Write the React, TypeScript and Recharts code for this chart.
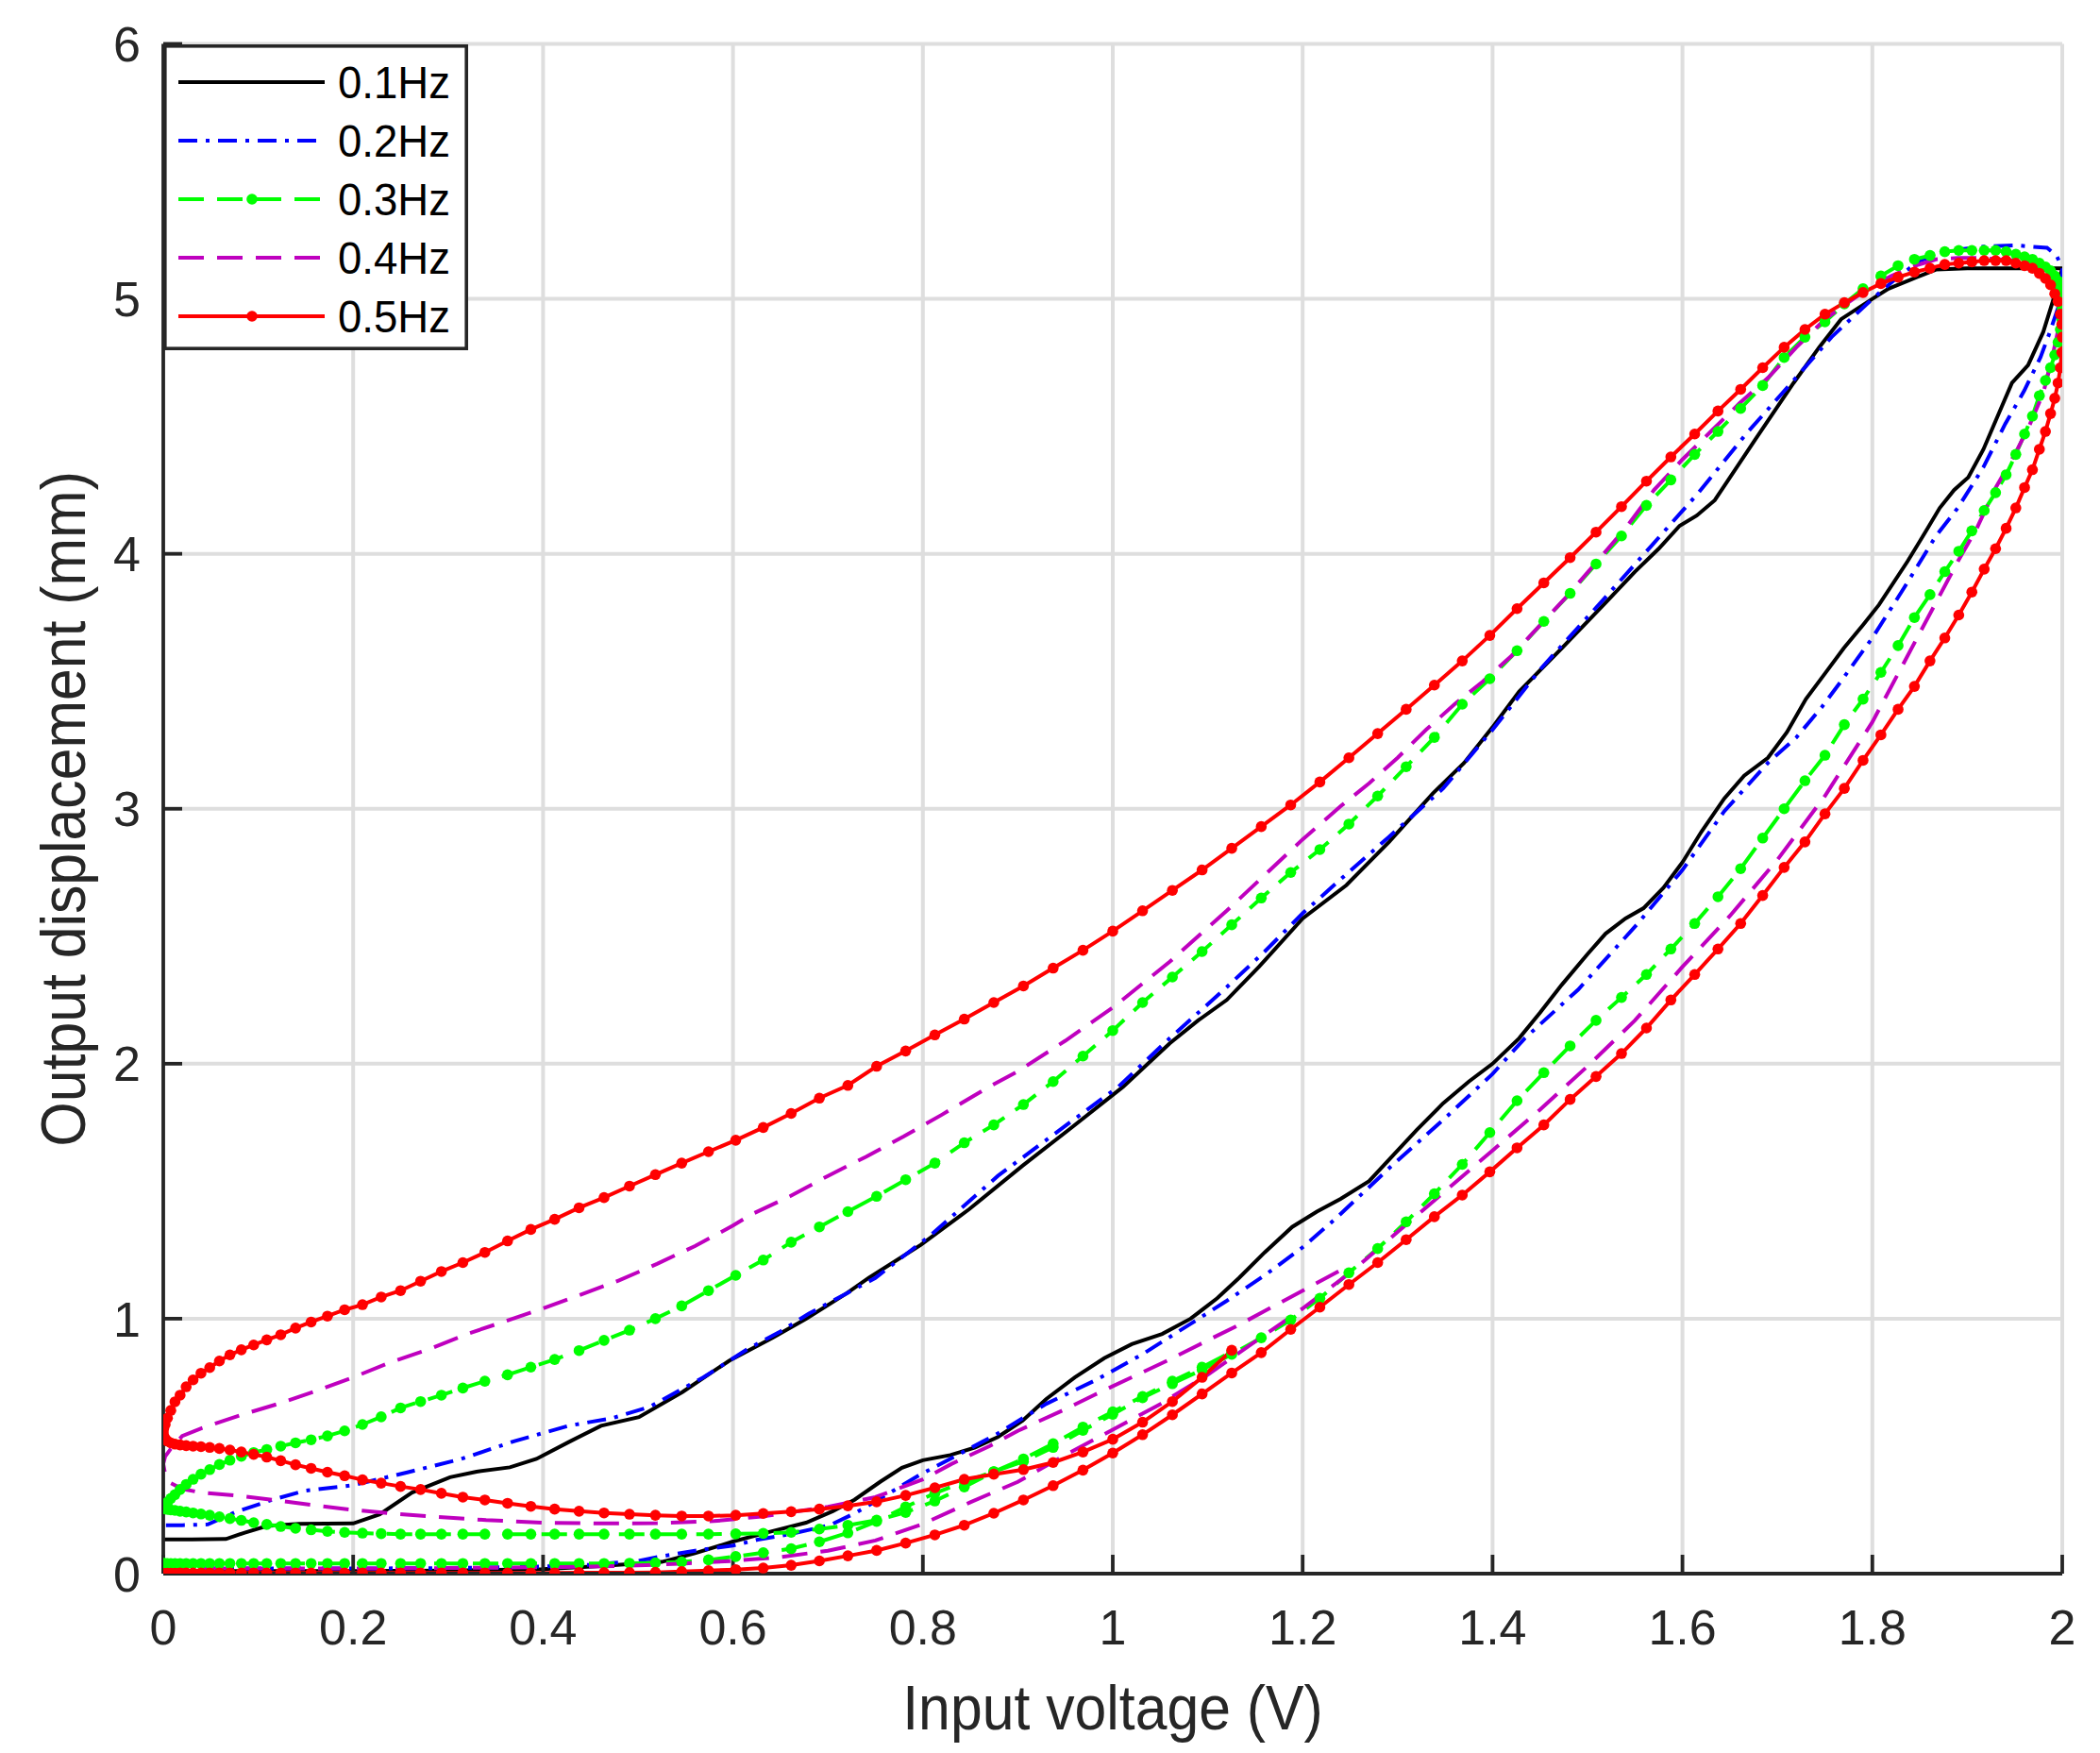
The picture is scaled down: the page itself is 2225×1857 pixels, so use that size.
import { LineChart, Line, XAxis, YAxis, CartesianGrid, Legend } from "recharts"

const xTicks = [0, 0.2, 0.4, 0.6, 0.8, 1, 1.2, 1.4, 1.6, 1.8, 2]
const yTicks = [0, 1, 2, 3, 4, 5, 6]
const freqLabels = ["0.1Hz", "0.2Hz", "0.3Hz", "0.4Hz", "0.5Hz"]

// input voltage samples over one rising half period (0.3Hz and 0.5Hz records)
const voltRise = [
  0, 0.0005, 0.002, 0.0044, 0.0079, 0.0123, 0.0177, 0.0241, 0.0314, 0.0397,
  0.0489, 0.0591, 0.0702, 0.0822, 0.0952, 0.109, 0.1237, 0.1393, 0.1557, 0.1729,
  0.191, 0.2098, 0.2295, 0.2499, 0.271, 0.2929, 0.3155, 0.3387, 0.3626, 0.3871,
  0.4122, 0.4379, 0.4642, 0.491, 0.5183, 0.546, 0.5742, 0.6029, 0.6319, 0.6613,
  0.691, 0.721, 0.7513, 0.7819, 0.8126, 0.8436, 0.8747, 0.9059, 0.9372, 0.9686,
  1.0, 1.0314, 1.0628, 1.0941, 1.1253, 1.1564, 1.1874, 1.2181, 1.2487, 1.279,
  1.309, 1.3387, 1.3681, 1.3971, 1.4258, 1.454, 1.4817, 1.509, 1.5358, 1.5621,
  1.5878, 1.6129, 1.6374, 1.6613, 1.6845, 1.7071, 1.729, 1.7501, 1.7705, 1.7902,
  1.809, 1.8271, 1.8443, 1.8607, 1.8763, 1.891, 1.9048, 1.9178, 1.9298, 1.9409,
  1.9511, 1.9603, 1.9686, 1.9759, 1.9823, 1.9877, 1.9921, 1.9956, 1.998, 1.9995, 2.0,
]

// 0.5Hz displacement: rising, falling, second rising (partial)
const red05Rise = [
  0, 0.001, 0.001, 0.002, 0.002, 0.002, 0.003, 0.003, 0.003, 0.003,
  0.003, 0.003, 0.003, 0.003, 0.003, 0.003, 0.003, 0.003, 0.003, 0.003,
  0.003, 0.003, 0.003, 0.003, 0.003, 0.003, 0.003, 0.003, 0.003, 0.003,
  0.003, 0.004, 0.004, 0.004, 0.005, 0.008, 0.012, 0.016, 0.022, 0.033,
  0.05, 0.07, 0.091, 0.12, 0.152, 0.19, 0.237, 0.289, 0.345, 0.406,
  0.473, 0.545, 0.623, 0.705, 0.787, 0.867, 0.958, 1.045, 1.134, 1.22,
  1.31, 1.4, 1.485, 1.576, 1.67, 1.76, 1.86, 1.95, 2.04, 2.14,
  2.25, 2.35, 2.45, 2.55, 2.66, 2.77, 2.87, 2.98, 3.08, 3.19,
  3.29, 3.39, 3.48, 3.58, 3.67, 3.76, 3.85, 3.94, 4.02, 4.1,
  4.18, 4.26, 4.33, 4.41, 4.48, 4.55, 4.61, 4.67, 4.73, 4.79, 4.85,
]
const red05Fall = [
  4.9, 4.94, 4.99, 5.02, 5.055, 5.08, 5.1, 5.12, 5.13, 5.14,
  5.15, 5.15, 5.15, 5.145, 5.14, 5.135, 5.12, 5.105, 5.085, 5.06,
  5.025, 4.985, 4.94, 4.88, 4.81, 4.73, 4.645, 4.56, 4.47, 4.38,
  4.285, 4.185, 4.085, 3.985, 3.886, 3.785, 3.68, 3.58, 3.485, 3.39,
  3.295, 3.2, 3.105, 3.015, 2.93, 2.845, 2.76, 2.68, 2.6, 2.52,
  2.445, 2.375, 2.305, 2.24, 2.175, 2.113, 2.05, 1.99, 1.915, 1.865,
  1.805, 1.75, 1.7, 1.655, 1.61, 1.565, 1.52, 1.475, 1.435, 1.39,
  1.35, 1.305, 1.26, 1.22, 1.185, 1.147, 1.11, 1.085, 1.055, 1.035,
  1.01, 0.987, 0.963, 0.937, 0.917, 0.897, 0.878, 0.858, 0.834, 0.808,
  0.786, 0.76, 0.733, 0.7, 0.674, 0.64, 0.61, 0.585, 0.57, 0.555,
]
const red05Rise2 = [
  0.54, 0.53, 0.52, 0.513, 0.508, 0.505, 0.502, 0.5, 0.498, 0.495,
  0.491, 0.485, 0.477, 0.468, 0.457, 0.443, 0.427, 0.413, 0.398, 0.384,
  0.368, 0.355, 0.342, 0.33, 0.315, 0.3, 0.289, 0.276, 0.264, 0.253,
  0.245, 0.238, 0.233, 0.229, 0.226, 0.226, 0.229, 0.236, 0.243, 0.253,
  0.266, 0.282, 0.307, 0.337, 0.37, 0.39, 0.408, 0.436, 0.477, 0.527,
  0.594, 0.675, 0.77, 0.876,
]

// 0.3Hz displacement
const green03Rise = [
  0.04, 0.04, 0.04, 0.04, 0.04, 0.04, 0.04, 0.04, 0.04, 0.04,
  0.04, 0.04, 0.04, 0.04, 0.04, 0.04, 0.04, 0.04, 0.04, 0.04,
  0.04, 0.04, 0.04, 0.04, 0.04, 0.04, 0.04, 0.04, 0.04, 0.04,
  0.04, 0.04, 0.04, 0.041, 0.042, 0.046, 0.054, 0.067, 0.082, 0.098,
  0.125, 0.16, 0.205, 0.262, 0.315, 0.36, 0.4, 0.44, 0.495, 0.562,
  0.625, 0.69, 0.745, 0.8, 0.86, 0.925, 0.995, 1.08, 1.18, 1.275,
  1.38, 1.49, 1.605, 1.73, 1.855, 1.965, 2.07, 2.17, 2.26, 2.35,
  2.45, 2.55, 2.655, 2.765, 2.885, 3.0, 3.11, 3.21, 3.33, 3.43,
  3.535, 3.64, 3.75, 3.84, 3.93, 4.01, 4.09, 4.17, 4.24, 4.31,
  4.39, 4.47, 4.54, 4.62, 4.68, 4.73, 4.78, 4.83, 4.88, 4.92, 4.96,
]
const green03Fall = [
  5.0, 5.04, 5.07, 5.09, 5.11, 5.125, 5.14, 5.155, 5.165, 5.175,
  5.185, 5.19, 5.19, 5.19, 5.19, 5.185, 5.17, 5.155, 5.13, 5.09,
  5.04, 4.98, 4.91, 4.85, 4.77, 4.66, 4.57, 4.48, 4.39, 4.29,
  4.19, 4.07, 3.96, 3.845, 3.735, 3.62, 3.51, 3.41, 3.28, 3.165,
  3.05, 2.94, 2.84, 2.75, 2.65, 2.545, 2.44, 2.34, 2.24, 2.13,
  2.03, 1.93, 1.84, 1.76, 1.69, 1.61, 1.545, 1.48, 1.42, 1.36,
  1.3, 1.23, 1.17, 1.11, 1.05, 1.0, 0.955, 0.915, 0.875, 0.84,
  0.81, 0.78, 0.755, 0.728, 0.7, 0.675, 0.65, 0.615, 0.585, 0.56,
  0.54, 0.525, 0.513, 0.5, 0.487, 0.475, 0.46, 0.445, 0.428, 0.408,
  0.39, 0.37, 0.35, 0.33, 0.31, 0.295, 0.28, 0.27, 0.262, 0.258,
]
const green03Rise2 = [
  0.256, 0.254, 0.252, 0.25, 0.248, 0.245, 0.242, 0.238, 0.234, 0.229,
  0.223, 0.216, 0.209, 0.2, 0.193, 0.185, 0.178, 0.172, 0.166, 0.162,
  0.159, 0.157, 0.155, 0.155, 0.155, 0.155, 0.155, 0.155, 0.155, 0.155,
  0.155, 0.155, 0.155, 0.155, 0.155, 0.155, 0.156, 0.158, 0.162, 0.175,
  0.19, 0.21, 0.24, 0.285, 0.34, 0.4, 0.45, 0.51, 0.575, 0.635,
  0.695, 0.755, 0.81, 0.87,
]

// 0.1Hz [voltage, displacement]
const black01Rise = [
  [0, 0.01], [0.1, 0.01], [0.2, 0.01], [0.3, 0.012], [0.4, 0.018], [0.46, 0.03], [0.5, 0.04],
  [0.525, 0.046], [0.56, 0.08], [0.6, 0.126], [0.64, 0.165], [0.677, 0.2], [0.705, 0.245],
  [0.728, 0.29], [0.755, 0.36], [0.778, 0.415], [0.8, 0.445], [0.829, 0.465], [0.855, 0.495],
  [0.879, 0.536], [0.905, 0.6], [0.93, 0.685], [0.96, 0.77], [0.991, 0.845], [1.02, 0.9],
  [1.052, 0.94], [1.082, 1.0], [1.11, 1.08], [1.133, 1.16], [1.16, 1.26], [1.189, 1.36],
  [1.215, 1.42], [1.24, 1.47], [1.27, 1.54], [1.295, 1.64], [1.32, 1.74], [1.348, 1.845],
  [1.375, 1.93], [1.4, 2.0], [1.428, 2.1], [1.45, 2.2], [1.473, 2.31], [1.5, 2.43],
  [1.519, 2.51], [1.54, 2.57], [1.559, 2.61], [1.58, 2.69], [1.6, 2.79], [1.62, 2.91],
  [1.644, 3.04], [1.665, 3.13], [1.69, 3.2], [1.71, 3.3], [1.73, 3.43], [1.75, 3.53],
  [1.77, 3.63], [1.79, 3.72], [1.807, 3.8], [1.837, 3.97], [1.855, 4.08], [1.871, 4.18],
  [1.886, 4.25], [1.901, 4.3], [1.917, 4.41], [1.932, 4.54], [1.947, 4.67], [1.964, 4.74],
  [1.98, 4.87], [1.99, 4.99], [1.997, 5.08], [2.0, 5.12],
]
const black01Fall = [
  [1.95, 5.12], [1.9, 5.12], [1.867, 5.115], [1.85, 5.09], [1.817, 5.04], [1.8, 5.0],
  [1.767, 4.92], [1.744, 4.81], [1.717, 4.67], [1.677, 4.45], [1.634, 4.21], [1.615, 4.15],
  [1.597, 4.11], [1.575, 4.02], [1.55, 3.93], [1.517, 3.8], [1.473, 3.63], [1.428, 3.46],
  [1.4, 3.32], [1.37, 3.18], [1.337, 3.06], [1.291, 2.87], [1.246, 2.7], [1.2, 2.57],
  [1.154, 2.38], [1.12, 2.25], [1.09, 2.17], [1.06, 2.08], [1.011, 1.91], [0.955, 1.745],
  [0.905, 1.6], [0.849, 1.43], [0.798, 1.29], [0.743, 1.16], [0.72, 1.1], [0.677, 1.0],
  [0.642, 0.926], [0.596, 0.835], [0.547, 0.713], [0.501, 0.614], [0.461, 0.58],
  [0.427, 0.516], [0.393, 0.45], [0.365, 0.417], [0.33, 0.4], [0.302, 0.378],
  [0.262, 0.318], [0.228, 0.233], [0.2, 0.197], [0.143, 0.195], [0.109, 0.187],
  [0.085, 0.16], [0.066, 0.136], [0.03, 0.134], [0, 0.134],
]

// 0.2Hz
const blue02Rise = [
  [0, 0.02], [0.1, 0.02], [0.2, 0.02], [0.3, 0.022], [0.4, 0.028], [0.45, 0.035], [0.5, 0.05],
  [0.525, 0.068], [0.56, 0.09], [0.6, 0.11], [0.626, 0.133], [0.66, 0.155], [0.702, 0.19],
  [0.73, 0.24], [0.753, 0.29], [0.798, 0.39], [0.839, 0.47], [0.879, 0.55], [0.93, 0.666],
  [0.981, 0.757], [1.031, 0.86], [1.082, 0.98], [1.12, 1.07], [1.16, 1.17], [1.2, 1.28],
  [1.234, 1.39], [1.291, 1.59], [1.348, 1.78], [1.4, 1.96], [1.434, 2.1], [1.49, 2.29],
  [1.553, 2.55], [1.6, 2.76], [1.644, 2.99], [1.69, 3.18], [1.72, 3.28], [1.747, 3.4],
  [1.767, 3.5], [1.8, 3.67], [1.834, 3.87], [1.867, 4.07], [1.89, 4.18], [1.917, 4.34],
  [1.94, 4.51], [1.96, 4.64], [1.977, 4.77], [1.987, 4.87], [1.997, 4.98], [2.0, 5.05],
]
const blue02Fall = [
  [2.0, 5.12], [1.994, 5.17], [1.984, 5.2], [1.951, 5.21], [1.917, 5.205], [1.884, 5.19],
  [1.85, 5.15], [1.825, 5.08], [1.8, 5.0], [1.757, 4.85], [1.717, 4.68], [1.667, 4.47],
  [1.617, 4.24], [1.567, 4.03], [1.519, 3.83], [1.485, 3.69], [1.451, 3.55], [1.4, 3.31],
  [1.348, 3.08], [1.291, 2.89], [1.245, 2.74], [1.2, 2.59], [1.16, 2.44], [1.12, 2.3],
  [1.06, 2.1], [1.006, 1.91], [0.955, 1.77], [0.879, 1.56], [0.809, 1.33], [0.75, 1.16],
  [0.72, 1.1], [0.68, 1.02], [0.65, 0.95], [0.615, 0.88], [0.569, 0.77], [0.512, 0.654],
  [0.473, 0.61], [0.427, 0.58], [0.37, 0.52], [0.314, 0.45], [0.257, 0.397], [0.2, 0.347],
  [0.149, 0.325], [0.115, 0.29], [0.075, 0.24], [0.047, 0.193], [0.02, 0.19], [0, 0.19],
]

// 0.4Hz
const mag04Rise = [
  [0, 0.02], [0.1, 0.02], [0.2, 0.02], [0.3, 0.022], [0.4, 0.025], [0.45, 0.028], [0.5, 0.032],
  [0.55, 0.04], [0.6, 0.05], [0.65, 0.065], [0.7, 0.09], [0.75, 0.13], [0.8, 0.195],
  [0.85, 0.28], [0.9, 0.36], [0.95, 0.465], [1.0, 0.565], [1.05, 0.665], [1.1, 0.78],
  [1.15, 0.91], [1.2, 1.04], [1.25, 1.18], [1.3, 1.34], [1.35, 1.5], [1.4, 1.66],
  [1.45, 1.82], [1.5, 1.99], [1.55, 2.17], [1.6, 2.38], [1.65, 2.58], [1.7, 2.8],
  [1.75, 3.05], [1.8, 3.34], [1.83, 3.55], [1.86, 3.76], [1.89, 3.97], [1.91, 4.1],
  [1.93, 4.26], [1.95, 4.39], [1.965, 4.5], [1.98, 4.63], [1.99, 4.78], [1.997, 4.9], [2.0, 4.97],
]
const mag04Fall = [
  [1.997, 5.02], [1.987, 5.06], [1.977, 5.11], [1.964, 5.135], [1.95, 5.15], [1.934, 5.155],
  [1.917, 5.16], [1.89, 5.16], [1.867, 5.155], [1.845, 5.13], [1.82, 5.09], [1.8, 5.05],
  [1.78, 5.0], [1.75, 4.92], [1.72, 4.81], [1.69, 4.69], [1.66, 4.59], [1.63, 4.48],
  [1.6, 4.37], [1.57, 4.25], [1.54, 4.1], [1.51, 3.97], [1.48, 3.84], [1.45, 3.72],
  [1.42, 3.6], [1.39, 3.5], [1.36, 3.41], [1.33, 3.31], [1.3, 3.2], [1.27, 3.1],
  [1.24, 3.01], [1.2, 2.88], [1.16, 2.74], [1.12, 2.6], [1.06, 2.4], [1.0, 2.22],
  [0.95, 2.09], [0.9, 1.97], [0.87, 1.91], [0.82, 1.8], [0.78, 1.715], [0.74, 1.635],
  [0.7, 1.56], [0.66, 1.48], [0.62, 1.41], [0.6, 1.365], [0.56, 1.285], [0.52, 1.215],
  [0.48, 1.15], [0.44, 1.095], [0.4, 1.04], [0.36, 0.99], [0.32, 0.94], [0.28, 0.88],
  [0.24, 0.83], [0.2, 0.77], [0.16, 0.715], [0.12, 0.665], [0.08, 0.62], [0.04, 0.57],
  [0.02, 0.54], [0.008, 0.49], [0.002, 0.46], [0, 0.43],
]
const mag04Rise2 = [
  [0.002, 0.39], [0.008, 0.355], [0.02, 0.332], [0.04, 0.318], [0.08, 0.305], [0.12, 0.287],
  [0.16, 0.268], [0.2, 0.25], [0.24, 0.236], [0.28, 0.225], [0.34, 0.21], [0.4, 0.2],
  [0.46, 0.197], [0.52, 0.198], [0.58, 0.206], [0.63, 0.224], [0.7, 0.262], [0.75, 0.3],
  [0.8, 0.37], [0.83, 0.43], [0.87, 0.5], [0.9, 0.56], [0.95, 0.645], [0.98, 0.7],
  [1.02, 0.77], [1.06, 0.84], [1.1, 0.915], [1.13, 0.97], [1.16, 1.03], [1.2, 1.11], [1.24, 1.19],
]

type Pt = { x: number; y: number }
const fromPairs = (list: number[][]): Pt[] => list.map(([x, y]) => ({ x, y }))
const onVolts = (volts: number[], ys: number[]): Pt[] => ys.map((y, i) => ({ x: volts[i], y }))
const voltFall = voltRise.slice().reverse().slice(1)

const series = [
  { name: freqLabels[0], color: "#000000", dash: undefined, dot: 0,
    data: [...fromPairs(black01Rise), ...fromPairs(black01Fall)] },
  { name: freqLabels[1], color: "#0000ff", dash: "20 9 4 9", dot: 0,
    data: [...fromPairs(blue02Rise), ...fromPairs(blue02Fall)] },
  { name: freqLabels[2], color: "#00ff00", dash: "27 14", dot: 5.8,
    data: [...onVolts(voltRise, green03Rise), ...onVolts(voltFall, green03Fall), ...onVolts(voltRise.slice(1), green03Rise2)] },
  { name: freqLabels[3], color: "#bf00bf", dash: "27 14", dot: 0,
    data: [...fromPairs(mag04Rise), ...fromPairs(mag04Fall), ...fromPairs(mag04Rise2)] },
  { name: freqLabels[4], color: "#ff0000", dash: undefined, dot: 5.8,
    data: [...onVolts(voltRise, red05Rise), ...onVolts(voltFall, red05Fall), ...onVolts(voltRise.slice(1), red05Rise2)] },
]

const FONT = "Arial, 'Liberation Sans', Helvetica, sans-serif"
const INK = "#262626"
const W = 2225
const H = 1857
const LEFT = 173
const TOP = 46.5
const RIGHT = 2185
const BOTTOM = 1667
const PLOT_CX = (LEFT + RIGHT) / 2
const PLOT_CY = (TOP + BOTTOM) / 2

function LegendBox() {
  return (
    <svg width={323} height={324} style={{ display: "block" }}>
      <rect x={1.8} y={1.8} width={319.4} height={320.4} fill="#ffffff" stroke={INK} strokeWidth={3.6} />
      {series.map((s, i) => {
        const y = 40 + i * 62
        return (
          <g key={s.name}>
            <line x1={16} x2={171} y1={y} y2={y} stroke={s.color} strokeWidth={4} strokeDasharray={s.dash} />
            {s.dot > 0 && <circle cx={94} cy={y} r={s.dot} fill={s.color} />}
            <text x={185} y={y + 17} fontSize={48} fontFamily={FONT} fill="#000000"
              transform={`translate(185 0) scale(0.95 1) translate(-185 0)`}>{s.name}</text>
          </g>
        )
      })}
    </svg>
  )
}

const xTitle = () => (
  <text x={PLOT_CX} y={1832} textAnchor="middle" fontSize={66} fontFamily={FONT} fill={INK}
    transform={`translate(${PLOT_CX} 0) scale(0.92 1) translate(${-PLOT_CX} 0)`}>
    Input voltage (V)
  </text>
)

const yTitle = () => (
  <text x={0} y={0} textAnchor="middle" fontSize={66} fontFamily={FONT} fill={INK}
    transform={`translate(90 ${PLOT_CY}) rotate(-90) scale(0.92 1)`}>
    Output displacement (mm)
  </text>
)

const XTick = (props: any) => (
  <text x={props.x} y={BOTTOM + 75} textAnchor="middle" fontSize={52} fontFamily={FONT} fill={INK}>
    {props.payload.value}
  </text>
)

const YTick = (props: any) => (
  <text x={LEFT - 24} y={props.y + 18.6} textAnchor="end" fontSize={52} fontFamily={FONT} fill={INK}>
    {props.payload.value}
  </text>
)

const axisLine = { stroke: INK, strokeWidth: 3.8 }
const tickLine = { stroke: INK, strokeWidth: 3.8 }

export default function App() {
  return (
    <div style={{ position: "absolute", left: 0, top: 0, width: W, height: H, background: "#ffffff" }}>
      <LineChart width={W} height={H} margin={{ top: TOP, right: W - RIGHT, bottom: 0, left: 0 }}>
        <CartesianGrid stroke="#dedede" strokeWidth={4} />
        <XAxis type="number" dataKey="x" domain={[0, 2]} ticks={xTicks} allowDataOverflow
          height={H - BOTTOM} axisLine={axisLine} tickLine={tickLine} tickSize={-20}
          tick={XTick} label={{ content: xTitle }} />
        <XAxis xAxisId="top" orientation="top" type="number" domain={[0, 2]} ticks={xTicks}
          allowDataOverflow height={0} axisLine={axisLine} tickLine={tickLine} tickSize={-20} tick={false} />
        <YAxis type="number" domain={[0, 6]} ticks={yTicks} allowDataOverflow width={LEFT}
          axisLine={axisLine} tickLine={tickLine} tickSize={-20}
          tick={YTick} label={{ content: yTitle }} />
        <YAxis yAxisId="right" orientation="right" type="number" domain={[0, 6]} ticks={yTicks}
          allowDataOverflow width={0} axisLine={axisLine} tickLine={tickLine} tickSize={-20} tick={false} />
        {series.map((s) => (
          <Line key={s.name} name={s.name} data={s.data} dataKey="y" type="linear"
            stroke={s.color} strokeWidth={4} strokeDasharray={s.dash}
            dot={s.dot > 0 ? { r: s.dot, fill: s.color, stroke: "none" } : false}
            activeDot={false} isAnimationActive={false} />
        ))}
        <Legend layout="vertical" align="center" verticalAlign="middle"
          wrapperStyle={{ left: LEFT, top: TOP, width: 323, height: 324 }}
          content={() => <LegendBox />} />
      </LineChart>
    </div>
  )
}
